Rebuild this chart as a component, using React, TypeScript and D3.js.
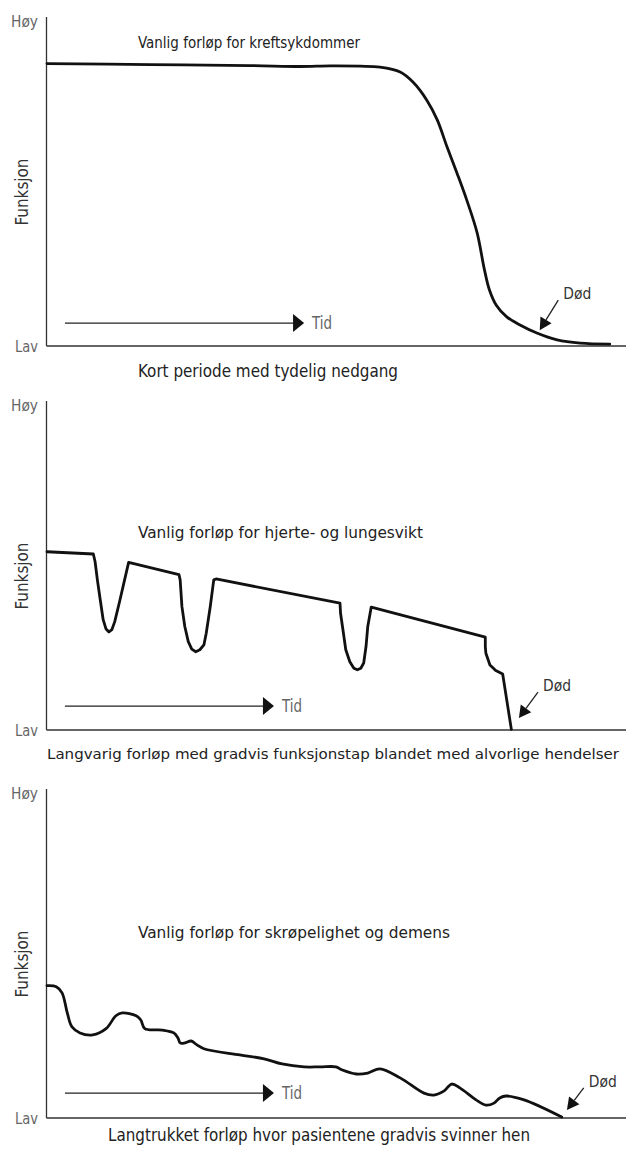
import React from "react";
import * as d3 from "d3";

// ---- data (time units 0-100, function units 0-100) ----
const cancerCurve: [number, number][] = [
  [0, 87.3], [17.8, 87.0], [35.1, 86.7], [43.7, 86.4], [48.9, 86.6], [54.1, 86.5],
  [57.5, 86.2], [61.0, 84.7], [63.2, 81.6], [65.6, 76.0], [67.4, 69.9], [69.1, 61.5],
  [70.8, 53.5], [72.5, 45.1], [74.3, 34.9], [75.5, 24.0], [76.4, 17.4], [77.6, 12.6],
  [79.4, 9.0], [81.7, 6.5], [84.6, 4.0], [88.1, 1.9], [92.1, 0.9], [97.2, 0.6],
];

const heartCurve: [number, number][] = [
  [0, 55.1], [8.0, 54.4],
  [8.3, 52.1], [8.7, 46.4], [9.2, 40.2], [9.7, 34.1], [10.2, 31.2], [10.7, 30.3],
  [11.2, 31.0], [11.7, 33.5], [12.6, 40.2], [13.4, 46.4], [14.1, 51.8],
  [22.8, 48.0],
  [23.0, 46.4], [23.3, 38.2], [23.8, 32.0], [24.4, 27.3], [25.0, 25.0], [25.7, 24.2],
  [26.4, 24.8], [27.1, 26.3], [27.5, 29.9], [28.2, 38.2], [28.8, 46.4], [29.2, 46.7],
  [50.6, 39.2],
  [50.7, 36.1], [51.2, 29.9], [51.6, 24.8], [52.3, 21.1], [53.0, 19.1], [53.6, 18.6],
  [54.2, 19.1], [54.7, 20.7], [55.1, 25.8], [55.4, 32.0], [56.0, 38.0],
  [75.7, 28.7],
  [75.7, 25.8], [75.8, 23.7], [76.5, 20.1], [77.5, 18.4], [78.7, 17.3],
  [80.2, 0.2],
];

const frailtyCurve: [number, number][] = [
  [0, 40.9], [1.6, 40.6], [2.6, 38.7], [3.5, 32.5], [4.3, 28.2], [5.7, 26.3], [7.9, 25.7],
  [10.2, 27.6], [11.9, 31.6], [13.0, 32.5], [15.4, 31.6], [16.2, 30.3], [16.9, 27.6],
  [19.9, 27.2], [21.9, 26.3], [22.6, 24.8], [23.0, 23.2], [23.8, 23.2], [24.9, 23.8],
  [25.9, 22.6], [27.1, 21.4], [33.3, 19.5], [37.5, 18.3], [40.6, 16.7], [44.4, 15.8],
  [47.2, 15.8], [49.9, 15.8], [50.9, 14.9], [53.4, 13.6], [55.4, 13.9], [57.5, 15.2],
  [61.0, 12.4], [65.1, 7.7], [66.8, 7.1], [68.6, 8.4], [69.9, 10.5], [71.3, 9.3],
  [74.1, 5.6], [75.8, 4.0], [77.2, 4.6], [78.2, 6.2], [79.3, 6.8], [82.4, 5.6], [88.9, 0.3],
];

const titles = [
  "Vanlig forløp for kreftsykdommer",
  "Vanlig forløp for hjerte- og lungesvikt",
  "Vanlig forløp for skrøpelighet og demens",
];
const captions = [
  "Kort periode med tydelig nedgang",
  "Langvarig forløp med gradvis funksjonstap blandet med alvorlige hendelser",
  "Langtrukket forløp hvor pasientene gradvis svinner hen",
];
const yTickLabels = ["Lav", "Høy"];
const yAxisTitle = "Funksjon";
const timeLabel = "Tid";
const deathLabel = "Død";

// annotation anchors in data units
const timeArrows: [number, number, number][] = [
  [3.1, 44.4, 7.1],
  [3.1, 39.2, 7.4],
  [3.1, 39.2, 7.7],
];
const deathPointers: [number, number, number, number][] = [
  [88.3, 14.2, 85.1, 4.9],
  [84.8, 11.7, 81.5, 3.7],
  [92.7, 9.3, 89.8, 2.5],
];

// ---- layout ----
const W = 626;
const H = 1151;
const FONT = "'Liberation Sans Narrow', 'DejaVu Sans Condensed', 'DejaVu Sans', sans-serif";

type PanelCfg = {
  baseline: number;
  axisTop: number;
  titleX: number;
  titleY: number;
  titleW: number;
  capX: number;
  capY: number;
  capW: number;
  capSize: number;
  curve: d3.CurveFactory;
  data: [number, number][];
  tidTextX: number;
};

const panels: PanelCfg[] = [
  { baseline: 346, axisTop: 17, titleX: 138, titleY: 48, titleW: 222, capX: 138, capY: 377, capW: 260, capSize: 17, curve: d3.curveCatmullRom, data: cancerCurve, tidTextX: 312 },
  { baseline: 730, axisTop: 401, titleX: 138, titleY: 538, titleW: 285, capX: 47, capY: 759, capW: 572, capSize: 14.5, curve: d3.curveLinear, data: heartCurve, tidTextX: 282 },
  { baseline: 1118, axisTop: 789, titleX: 138, titleY: 938, titleW: 312, capX: 108, capY: 1141, capW: 422, capSize: 17, curve: d3.curveCatmullRom, data: frailtyCurve, tidTextX: 282 },
];

const PLOT_H = 323.5;
const x = d3.scaleLinear().domain([0, 100]).range([47, 626]);

function Panel({ cfg, i }: { cfg: PanelCfg; i: number }) {
  const y = d3.scaleLinear().domain([0, 100]).range([cfg.baseline, cfg.baseline - PLOT_H]);
  const line = d3
    .line<[number, number]>()
    .x((d) => x(d[0]))
    .y((d) => y(d[1]))
    .curve(cfg.curve);
  const [tx0, tx1, ty] = timeArrows[i];
  const ax0 = x(tx0), ax1 = x(tx1), ay = y(ty);
  const [dx0, dy0, dx1, dy1] = deathPointers[i];
  const px0 = x(dx0), py0 = y(dy0), px1 = x(dx1), py1 = y(dy1);
  const ang = Math.atan2(py1 - py0, px1 - px0);
  const hl = 12, hw = 6.5;
  const bx = px1 - hl * Math.cos(ang), by = py1 - hl * Math.sin(ang);
  const nx = -Math.sin(ang), ny = Math.cos(ang);
  const head = `M${px1},${py1}L${bx + nx * hw},${by + ny * hw}L${bx - nx * hw},${by - ny * hw}Z`;
  const axisX = 46.5;
  const midY = cfg.baseline - 154;
  return (
    <g>
      {/* axes */}
      <line x1={axisX} x2={axisX} y1={cfg.axisTop} y2={cfg.baseline} stroke="#333" strokeWidth={1.3} />
      <line x1={axisX} x2={W} y1={cfg.baseline} y2={cfg.baseline} stroke="#333" strokeWidth={1.3} />
      <text x={38} y={cfg.axisTop + 10} textAnchor="end" fontSize={16} fill="#666" textLength={27} lengthAdjust="spacingAndGlyphs">{yTickLabels[1]}</text>
      <text x={38} y={cfg.baseline + 6} textAnchor="end" fontSize={16} fill="#666" textLength={23} lengthAdjust="spacingAndGlyphs">{yTickLabels[0]}</text>
      <text transform={`translate(28,${midY}) rotate(-90)`} textAnchor="middle" fontSize={17} fill="#333" textLength={67} lengthAdjust="spacingAndGlyphs">{yAxisTitle}</text>
      {/* title & caption */}
      <text x={cfg.titleX} y={cfg.titleY} fontSize={15} fill="#222" textLength={cfg.titleW} lengthAdjust="spacingAndGlyphs">{titles[i]}</text>
      <text x={cfg.capX} y={cfg.capY} fontSize={cfg.capSize} fill="#222" textLength={cfg.capW} lengthAdjust="spacingAndGlyphs">{captions[i]}</text>
      {/* time arrow */}
      <line x1={ax0} x2={ax1 - 10} y1={ay} y2={ay} stroke="#222" strokeWidth={1.3} />
      <path d={`M${ax1},${ay}L${ax1 - 11},${ay - 9}L${ax1 - 11},${ay + 9}Z`} fill="#111" />
      <text x={cfg.tidTextX} y={ay + 6} fontSize={17} fill="#666" textLength={20} lengthAdjust="spacingAndGlyphs">{timeLabel}</text>
      {/* curve */}
      <path d={line(cfg.data) || ""} fill="none" stroke="#111" strokeWidth={2.8} strokeLinejoin="round" strokeLinecap="round" />
      {/* death pointer */}
      <line x1={px0} y1={py0} x2={bx} y2={by} stroke="#222" strokeWidth={1.3} />
      <path d={head} fill="#111" />
      <text x={px0 + 5} y={py0 - 1} fontSize={16.5} fill="#333" textLength={28} lengthAdjust="spacingAndGlyphs">{deathLabel}</text>
    </g>
  );
}

export default function App() {
  return (
    <svg
      width={W}
      height={H}
      viewBox={`0 0 ${W} ${H}`}
      style={{ position: "absolute", left: 0, top: 0, background: "#fff" }}
      fontFamily={FONT}
    >
      <rect width={W} height={H} fill="#fff" />
      {panels.map((p, i) => (
        <Panel key={i} cfg={p} i={i} />
      ))}
    </svg>
  );
}
